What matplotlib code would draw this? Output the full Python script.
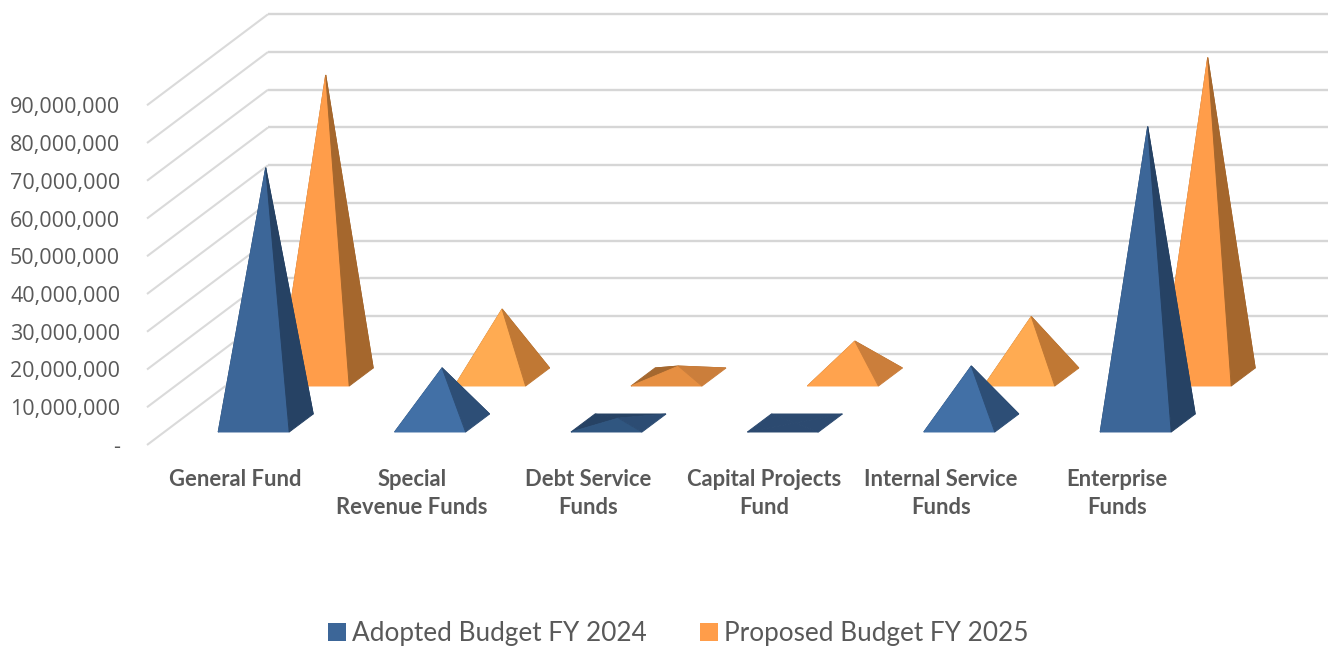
import matplotlib
matplotlib.use("Agg")
import matplotlib.pyplot as plt
from matplotlib.patches import Polygon, Patch

categories = ["General Fund", "Special\nRevenue Funds", "Debt Service\nFunds",
              "Capital Projects\nFund", "Internal Service\nFunds", "Enterprise\nFunds"]
adopted = [67600000, 14600000, 1300000, 0, 15100000, 78500000]
proposed = [80000000, 18000000, 2900000, 9500000, 16000000, 84600000]
y_ticks = [0, 10000000, 20000000, 30000000, 40000000, 50000000, 60000000, 70000000, 80000000, 90000000]
y_labels = ["-", "10,000,000", "20,000,000", "30,000,000", "40,000,000", "50,000,000",
            "60,000,000", "70,000,000", "80,000,000", "90,000,000"]

# (front, right, left/back) colours for each pyramid, shading depends on the slope
adopted_shades = [("#3C6698", "#264264", "#264264"), ("#4270A6", "#2D4E76", "#264264"),
                  ("#305680", "#2C4C73", "#264264"), ("#2C4A70", "#2C4A70", "#2C4A70"),
                  ("#4270A6", "#2D4E76", "#264264"), ("#3C6698", "#264264", "#264264")]
proposed_shades = [("#FF9D4A", "#A5672D", "#A5672D"), ("#FFAB52", "#C07834", "#A5672D"),
                   ("#E68F42", "#CB7E3B", "#A5682F"), ("#FFA34E", "#CB7E3B", "#A5682F"),
                   ("#FFAB52", "#C07834", "#A5672D"), ("#FF9D4A", "#A5672D", "#A5672D")]

# chart geometry in pixels of the 1328x647 picture
W, H = 1328, 647
LEFT, BOTTOM, TOP = 147, 445, 13
SLOT = 176.4
PX_VALUE = 1e7 / 37.75  # value per pixel on the y axis
PX_CAT = 1 / SLOT  # category units per pixel
WALL_DX, WALL_DY = 121, 91
BASE_W = 71
BOX_DX, BOX_DY = 24, 18

plt.rcParams["font.family"] = ["Lato", "DejaVu Sans"]

fig = plt.figure(figsize=(W / 100, H / 100), dpi=100)
ax = fig.add_axes([LEFT / W, (H - BOTTOM) / H, (W - LEFT) / W, (BOTTOM - TOP) / H])
ax.set_xlim(-0.5, -0.5 + (W - LEFT) * PX_CAT)
ax.set_ylim(0, (BOTTOM - TOP) * PX_VALUE)
for s in ax.spines.values():
    s.set_visible(False)


def pyramid(i, value, x_off, floor_px, shades, z):
    # base corners in data units, apex sits above the middle of the base
    x0 = i + x_off * PX_CAT
    w = BASE_W * PX_CAT
    dx = BOX_DX * PX_CAT
    y0 = floor_px * PX_VALUE
    dy = BOX_DY * PX_VALUE
    fl, fr = (x0, y0), (x0 + w, y0)
    bl, br = (x0 + dx, y0 + dy), (x0 + w + dx, y0 + dy)
    apex = (x0 + (w + dx) / 2, y0 + dy / 2 + value)
    front, right, back = shades
    for pts, col in [((bl, br, apex), back), ((fl, bl, apex), back),
                     ((fl, fr, apex), front), ((fr, br, apex), right)]:
        ax.add_patch(Polygon(pts, closed=True, facecolor=col, edgecolor=col,
                             linewidth=0.7, zorder=z))


# walls
wall_x = WALL_DX * PX_CAT
wall_y = WALL_DY * PX_VALUE
xmin, xmax = ax.get_xlim()
for t in y_ticks:
    ax.plot([xmin, xmin + wall_x], [t, t + wall_y], color="#DADADA", lw=1.5,
            solid_capstyle="butt", zorder=1, clip_on=False)
    ax.plot([xmin + wall_x, xmax], [t + wall_y, t + wall_y], color="#D6D6D6", lw=1.7,
            solid_capstyle="butt", zorder=1, clip_on=False)

for i in range(len(categories)):
    pyramid(i, proposed[i], 43, 59, proposed_shades[i], 3)
for i in range(len(categories)):
    pyramid(i, adopted[i], -17, 13, adopted_shades[i], 4)

ax.set_yticks(y_ticks)
ax.set_yticklabels(y_labels, family="Open Sans", fontsize=15.5, color="#595959")
ax.set_xticks(range(len(categories)))
ax.set_xticklabels(categories, fontsize=15.8, fontweight="bold", color="#595959", linespacing=1.43)
ax.tick_params(axis="y", length=0, pad=19.3)
ax.tick_params(axis="x", length=0, pad=17)

handles = [Patch(facecolor="#3C6698", label="Adopted Budget FY 2024"),
           Patch(facecolor="#FF9D4A", label="Proposed Budget FY 2025")]
fig.legend(handles=handles, loc="center", bbox_to_anchor=(678.5 / W, 1 - 634 / H), ncol=2,
           frameon=False, fontsize=18.85, labelcolor="#595959", handlelength=0.68, handleheight=0.68,
           handletextpad=0.22, columnspacing=2.05, borderpad=0, borderaxespad=0)

fig.savefig("out.png", dpi=100)
